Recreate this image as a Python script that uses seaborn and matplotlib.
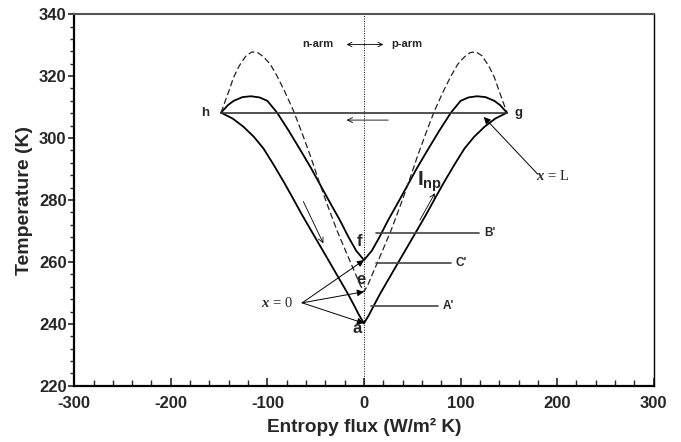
import matplotlib
matplotlib.use("Agg")
import matplotlib.pyplot as plt
import seaborn as sns
import pandas as pd
from matplotlib.ticker import MultipleLocator

# ---------------- data ----------------
outer_s = [-148, -136, -125, -114, -104, -94, -83, -74, -64.5, -55, -45.5, -35, -25, -17, -11, -5, 0,
           5, 11, 17, 25, 35, 45.5, 55, 64.5, 74, 83, 94, 104, 114, 125, 136, 148]
outer_t = [308.2, 306.3, 303.7, 300.4, 296.6, 291.6, 285.8, 280.8, 275.4, 270.3, 265.2, 259.6, 254.2, 249.9, 246.4, 242.8, 240.2,
           242.8, 246.4, 249.9, 254.2, 259.6, 265.2, 270.3, 275.4, 280.8, 285.8, 291.6, 296.6, 300.4, 303.7, 306.3, 308.2]

inner_s = [-148, -141, -135, -126, -117, -108, -100, -90, -78, -66, -55, -45.5, -36, -25, -16, -8, 0,
           8, 16, 25, 36, 45.5, 55, 66, 78, 90, 100, 108, 117, 126, 135, 141, 148]
inner_t = [308.2, 310.6, 312.0, 313.2, 313.5, 313.1, 312.0, 308.2, 302.4, 296.2, 290.4, 285.0, 279.6, 273.5, 268.0, 263.6, 260.6,
           263.6, 268.0, 273.5, 279.6, 285.0, 290.4, 296.2, 302.4, 308.2, 312.0, 313.1, 313.5, 313.2, 312.0, 310.6, 308.2]

dashed_s = [-148, -141, -135, -129, -122, -116, -110, -104, -97, -90, -82, -73, -64, -55, -46, -38, -28, -18, -10, -4, 0,
            4, 10, 18, 28, 38, 46, 55, 64, 73, 82, 90, 97, 104, 110, 116, 122, 129, 135, 141, 148]
dashed_t = [308.2, 314.2, 319.6, 323.4, 326.6, 327.8, 327.6, 326.2, 323.8, 320.0, 315.0, 308.8, 301.5, 293.8, 285.5, 278.5, 270.2, 262.8, 257.0, 252.6, 250.4,
            252.6, 257.0, 262.8, 270.2, 278.5, 285.5, 293.8, 301.5, 308.8, 315.0, 320.0, 323.8, 326.2, 327.6, 327.8, 326.6, 323.4, 319.6, 314.2, 308.2]

hg_s = [-148, 148]
hg_t = [308.2, 308.2]

ref_names = ["B'", "C'", "A'"]
ref_t = [269.4, 259.8, 245.9]
ref_s0 = [12.4, 12.4, 7.0]
ref_s1 = [119.0, 90.0, 76.5]

point_names = ["f", "e", "a"]
point_t = [260.6, 250.4, 240.2]

x_ticks = [-300, -200, -100, 0, 100, 200, 300]
y_ticks = [220, 240, 260, 280, 300, 320, 340]

# ---------------- style ----------------
sns.set_style("ticks")
plt.rcParams['font.family'] = ['Liberation Sans', 'DejaVu Sans']
plt.rcParams['font.weight'] = 'bold'
plt.rcParams['mathtext.fontset'] = 'custom'
plt.rcParams['mathtext.it'] = 'Liberation Serif:italic'
plt.rcParams['mathtext.rm'] = 'Liberation Serif'
plt.rcParams['mathtext.bf'] = 'Liberation Sans:bold'

fig = plt.figure(figsize=(6.81, 4.42), dpi=100)
ax = fig.add_axes([0.109, 0.127, 0.851, 0.841])

def curve(s, t, **kw):
    df = pd.DataFrame({"S": s, "T": t})
    sns.lineplot(data=df, x="S", y="T", sort=False, estimator=None, ax=ax, **kw)

curve(outer_s, outer_t, color="black", lw=1.3)
curve(inner_s, inner_t, color="black", lw=1.3)
curve(dashed_s, dashed_t, color="#222222", lw=0.9, linestyle=(0, (5, 2.5)))
curve(hg_s, hg_t, color="#333333", lw=1.2)

for name, t, s0, s1 in zip(ref_names, ref_t, ref_s0, ref_s1):
    curve([s0, s1], [t, t], color="#444444", lw=1.2)
    ax.text(s1 + 5, t, name, fontsize=8.5, fontweight='bold', va='center', ha='left')

ax.axvline(0, color="black", lw=0.7, linestyle=(0, (1, 1.5)))

# labels of points
ax.text(-4.8, 266.6, "f", fontsize=12, fontweight='bold', ha='center', va='center')
ax.text(-3.4, 254.4, "e", fontsize=12, fontweight='bold', ha='center', va='center')
ax.text(-6.9, 238.4, "a", fontsize=12, fontweight='bold', ha='center', va='center')
ax.text(-164, 308.2, "h", fontsize=9.5, fontweight='bold', ha='center', va='center')
ax.text(160, 308.0, "g", fontsize=9.5, fontweight='bold', ha='center', va='center')

ax.text(-48, 330.4, "n-arm", fontsize=8, fontweight='bold', ha='center', va='center')
ax.text(44, 330.4, "p-arm", fontsize=8, fontweight='bold', ha='center', va='center')
ax.annotate("", xy=(20, 330.2), xytext=(-18, 330.2),
            arrowprops=dict(arrowstyle="<->", lw=0.6, color="black", shrinkA=0, shrinkB=0,
                            mutation_scale=8))

# flow arrows (open heads)
open_arrow = dict(arrowstyle="->", lw=0.6, color="black", shrinkA=0, shrinkB=0, mutation_scale=9)
ax.annotate("", xy=(-18, 305.8), xytext=(25, 305.8), arrowprops=open_arrow)
ax.annotate("", xy=(-42.1, 266.0), xytext=(-62.8, 279.5), arrowprops=open_arrow)
ax.annotate("", xy=(73.4, 282.2), xytext=(57.9, 273.5), arrowprops=open_arrow)

ax.text(55, 286.0, r"$\mathbf{I}_{\mathbf{np}}$", fontsize=15, ha='left', va='center')

# x = 0 annotation
filled = dict(arrowstyle="-|>", lw=0.7, color="black", shrinkA=0, shrinkB=0, mutation_scale=10)
for t in point_t:
    ax.annotate("", xy=(0, t), xytext=(-64, 246.8), arrowprops=filled)
ax.text(-74, 246.8, r"$x$ = 0", fontsize=10.5, family='Liberation Serif', fontweight='normal',
        ha='right', va='center')

# x = L annotation
ax.annotate("", xy=(124, 306.8), xytext=(180, 288.3), arrowprops=filled)
ax.text(178, 287.6, r"$x$ = L", fontsize=10.5, family='Liberation Serif', fontweight='normal',
        ha='left', va='center')

# axes
ax.set_xlim(-300, 300)
ax.set_ylim(220, 340)
ax.set_xticks(x_ticks)
ax.set_yticks(y_ticks)
ax.set_xticklabels([str(v) for v in x_ticks])
ax.set_yticklabels([str(v) for v in y_ticks])
ax.xaxis.set_minor_locator(MultipleLocator(20))
ax.yaxis.set_minor_locator(MultipleLocator(4))
ax.tick_params(axis='x', which='major', direction='in', length=6, width=1.2, labelsize=12, pad=7.5)
ax.tick_params(axis='x', which='minor', direction='in', length=4, width=1.0)
ax.tick_params(axis='y', which='major', direction='out', length=4.5, width=1.2, labelsize=12, pad=1)
ax.tick_params(axis='y', which='minor', direction='out', length=3, width=1.0)
for lab in ax.get_xticklabels() + ax.get_yticklabels():
    lab.set_fontweight('bold')

ax.set_xlabel("Entropy flux (W/m² K)", fontsize=13.7, fontweight='bold', labelpad=5)
ax.set_ylabel("Temperature (K)", fontsize=14, fontweight='bold', labelpad=4)

for side in ['left', 'bottom']:
    ax.spines[side].set_linewidth(1.6)
    ax.spines[side].set_color('black')
ax.spines['top'].set_visible(True)
ax.spines['right'].set_visible(True)
ax.spines['top'].set_linewidth(1.5)
ax.spines['top'].set_color('#555555')
ax.spines['right'].set_linewidth(1.0)
ax.spines['right'].set_color('black')

fig.savefig("out.png", dpi=100)
